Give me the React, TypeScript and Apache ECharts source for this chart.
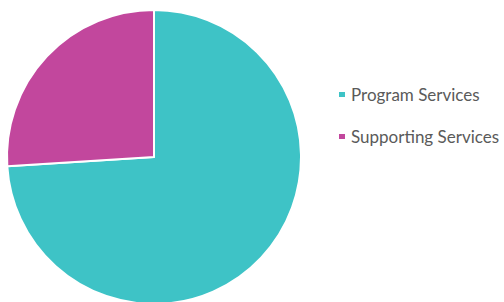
import React, { useEffect, useRef } from "react";
import * as echarts from "echarts";

const categories = ["Program Services", "Supporting Services"];
const values = [74, 26];
const colors = ["#3EC3C6", "#C2479D"];

export default function App() {
  const ref = useRef<HTMLDivElement>(null);
  useEffect(() => {
    if (!ref.current) return;
    const chart = echarts.init(ref.current, null, { renderer: "svg" });
    chart.setOption({
      animation: false,
      backgroundColor: "#ffffff",
      legend: {
        orient: "vertical",
        left: 332,
        top: 81,
        itemGap: 25,
        itemWidth: 8,
        itemHeight: 7,
        icon: "rect",
        textStyle: { color: "#5a5a5a", fontSize: 17, fontFamily: "Lato" },
        data: categories,
      },
      series: [
        {
          type: "pie",
          center: [154, 157],
          radius: 147,
          startAngle: 90,
          clockwise: true,
          label: { show: false },
          labelLine: { show: false },
          itemStyle: { borderColor: "#ffffff", borderWidth: 2 },
          data: categories.map((name, i) => ({
            name,
            value: values[i],
            itemStyle: { color: colors[i] },
          })),
        },
      ],
    });
    return () => chart.dispose();
  }, []);
  return (
    <div
      ref={ref}
      style={{ position: "fixed", left: 0, top: 0, width: 504, height: 302 }}
    />
  );
}
